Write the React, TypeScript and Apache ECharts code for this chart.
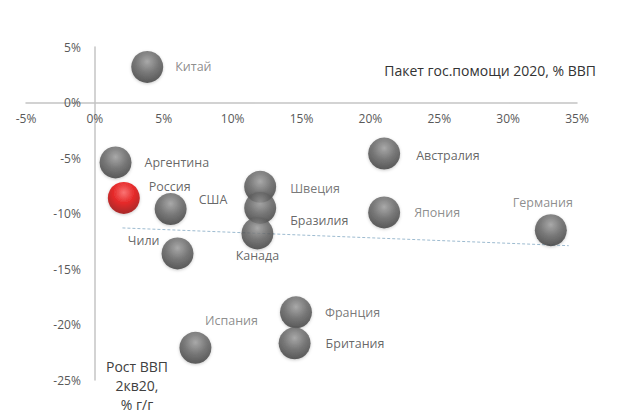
import React, { useEffect, useRef } from 'react';
import * as echarts from 'echarts';

// страны и значения
const countries = [
  'Китай', 'Аргентина', 'Россия', 'США', 'Швеция', 'Бразилия', 'Канада',
  'Чили', 'Испания', 'Франция', 'Британия', 'Австралия', 'Япония', 'Германия',
];
const stimulus = [3.8, 1.5, 2.1, 5.5, 12.0, 12.0, 11.8, 6.0, 7.3, 14.6, 14.5, 21.0, 21.0, 33.1];
const gdpGrowth = [3.2, -5.4, -8.6, -9.6, -7.6, -9.5, -11.8, -13.6, -22.1, -18.9, -21.7, -4.6, -9.9, -11.5];
const trendX = [2.0, 34.4];
const trendY = [-11.3, -12.9];
const xTicks = { min: -5, max: 35, step: 5 };
const yTicks = { min: -25, max: 5, step: 5 };

const FONT = '"Open Sans", sans-serif';

// плот: 26..577 по x, 47..380 по y
const G = { left: 26, right: 43, top: 47, bottom: 36 };
const W = 620, H = 416;

// где стоит подпись у каждого шара
const labelLayout: Record<string, any> = {
  'Китай': { position: 'right', distance: 12, color: '#707070' },
  'Аргентина': { position: 'right', distance: 13 },
  'Россия': { position: 'right', distance: 9, offset: [0, -11] },
  'США': { position: 'right', distance: 12, offset: [0, -10] },
  'Швеция': { position: 'right', distance: 14, offset: [0, 2], color: '#555' },
  'Бразилия': { position: 'right', distance: 14, offset: [0, 13] },
  'Канада': { position: 'bottom', distance: 0 },
  'Чили': { position: 'left', distance: 2, offset: [0, -13] },
  'Испания': { position: 'top', distance: 5, offset: [36, 0], color: '#707070' },
  'Франция': { position: 'right', distance: 13, color: '#555' },
  'Британия': { position: 'right', distance: 15 },
  'Австралия': { position: 'right', distance: 16, offset: [0, 2] },
  'Япония': { position: 'right', distance: 14, color: '#707070' },
  'Германия': { position: 'top', distance: 5, offset: [-8, 0], color: '#707070' },
};

const sphere = (c0: string, c1: string, c2: string) =>
  new echarts.graphic.RadialGradient(0.5, 0.33, 0.68, [
    { offset: 0, color: c0 },
    { offset: 0.5, color: c1 },
    { offset: 1, color: c2 },
  ]);

const App = () => {
  const chartRef = useRef<HTMLDivElement>(null);

  useEffect(() => {
    document.body.style.margin = '0';
    if (!chartRef.current) return;
    const chart = echarts.init(chartRef.current, null, { renderer: 'svg' });

    const points = countries.map((name, i) => {
      const lay = labelLayout[name] || {};
      const red = name === 'Россия';
      return {
        name,
        value: [stimulus[i], gdpGrowth[i]],
        itemStyle: {
          color: red ? sphere('#ff5a5a', '#e40000', '#960000') : sphere('#9c9c9c', '#626262', '#383838'),
          shadowBlur: 3,
          shadowColor: 'rgba(0,0,0,0.25)',
          shadowOffsetY: 1,
        },
        label: {
          show: true,
          formatter: name,
          position: lay.position,
          distance: lay.distance,
          offset: lay.offset || [0, 0],
          color: lay.color || '#404040',
          fontFamily: FONT,
          fontSize: 12.5,
        },
      };
    });

    const axisLabel = {
      color: '#595959',
      fontFamily: FONT,
      fontSize: 12,
      formatter: (v: number) => v + '%',
    };

    // сдвиг осей к нулю (подписи должны идти вместе с линией)
    const plotW = W - G.left - G.right;
    const plotH = H - G.top - G.bottom;
    const xZeroOffset = -plotH * (0 - yTicks.min) / (yTicks.max - yTicks.min);
    const yZeroOffset = -plotW * (0 - xTicks.min) / (xTicks.max - xTicks.min);

    chart.setOption({
      animation: false,
      backgroundColor: '#fff',
      grid: { ...G, containLabel: false, outerBoundsMode: 'none' },
      xAxis: {
        type: 'value',
        min: xTicks.min,
        max: xTicks.max,
        interval: xTicks.step,
        offset: xZeroOffset,
        axisLine: { onZero: false, lineStyle: { color: '#c4c4c4', width: 1.5 } },
        axisTick: { show: false },
        splitLine: { show: false },
        axisLabel: { ...axisLabel, margin: 10 },
      },
      yAxis: {
        type: 'value',
        min: yTicks.min,
        max: yTicks.max,
        interval: yTicks.step,
        offset: yZeroOffset,
        axisLine: { show: true, onZero: false, lineStyle: { color: '#c4c4c4', width: 1.5 } },
        axisTick: { show: false },
        splitLine: { show: false },
        axisLabel: { ...axisLabel, margin: 14 },
      },
      graphic: [
        {
          type: 'text',
          right: 24,
          top: 63,
          style: {
            text: 'Пакет гос.помощи 2020, % ВВП',
            fill: '#333',
            font: '14px ' + FONT,
          },
        },
        {
          type: 'text',
          x: 137,
          y: 357,
          style: {
            text: 'Рост ВВП\n2кв20,\n% г/г',
            fill: '#404040',
            font: '14px ' + FONT,
            align: 'center',
            verticalAlign: 'top',
            lineHeight: 19,
          },
        },
      ],
      series: [
        {
          type: 'line',
          data: trendX.map((x, i) => [x, trendY[i]]),
          symbol: 'none',
          silent: true,
          lineStyle: { color: '#9dbbd0', width: 1, type: [3, 2] },
          z: 1,
        },
        {
          type: 'scatter',
          symbolSize: 32,
          data: points,
          z: 3,
        },
      ],
    });

    return () => chart.dispose();
  }, []);

  return <div ref={chartRef} style={{ width: W, height: H }} />;
};

export default App;
